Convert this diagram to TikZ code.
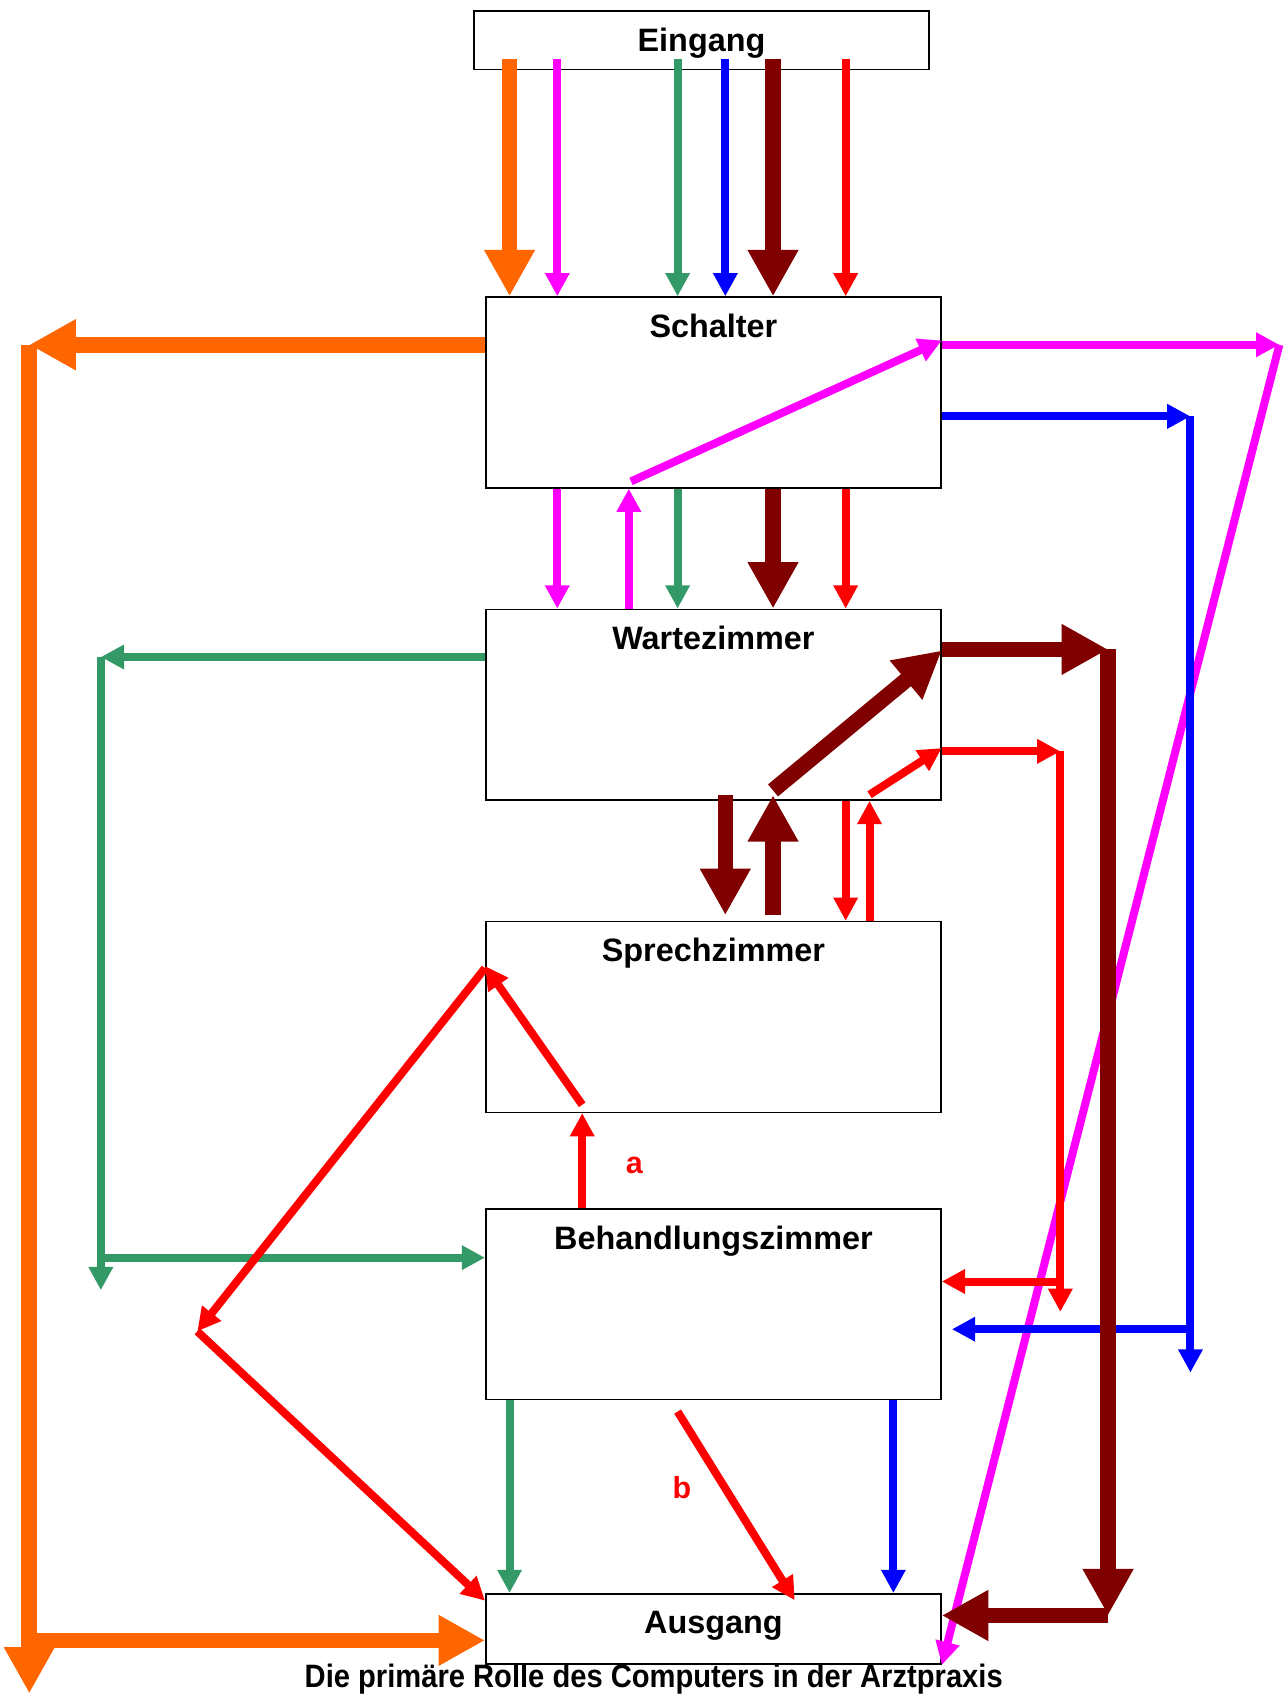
\documentclass[tikz,border=0pt]{standalone}
\usepackage{fontspec}
\setmainfont{Liberation Sans}
\newfontfamily\captionfont[FakeStretch=0.9]{Liberation Sans}
\usetikzlibrary{arrows.meta}
\definecolor{orangeflow}{HTML}{FF6600}
\definecolor{magentaflow}{HTML}{FF00FF}
\definecolor{greenflow}{HTML}{339966}
\definecolor{blueflow}{HTML}{0000FF}
\definecolor{darkredflow}{HTML}{800000}
\definecolor{redflow}{HTML}{FF0000}
\begin{document}
\begin{tikzpicture}[x=0.02cm,y=-0.02cm]
        \tikzset{room/.style={draw=black, line width=0.8pt, fill=none, minimum width=8.4cm, minimum height=3.52cm, inner sep=0pt},
          title/.style={font=\fontsize{17}{20}\selectfont\bfseries, anchor=base, yshift=-21.5pt},
          thinflow/.style={line width=4.2pt, -{Triangle[width=12.2pt,length=12.2pt]}},
          thickflow/.style={line width=8.2pt, -{Triangle[width=25pt,length=24.4pt]}}}
        \useasboundingbox (0,0) rectangle (1185,1568);
        \node[room, minimum height=1.08cm, label={[title]north:Eingang}] (eingang) at (647,37) {};
        \node[room, label={[title]north:Schalter}] (schalter) at (658,362) {};
        \node[room, label={[title]north:Wartezimmer}] (wartezimmer) at (658,650) {};
        \node[room, label={[title]north:Sprechzimmer}] (sprech) at (658,938) {};
        \node[room, label={[title]north:Behandlungszimmer}] (behandlung) at (658,1203) {};
        \node[room, minimum height=1.3cm, label={[title]north:Ausgang}] (ausgang) at (658,1502.5) {};
        \node[font=\captionfont\fontsize{17}{20}\selectfont\bfseries] (caption) at (603,1549) {Die primäre Rolle des Computers in der Arztpraxis};
        \node[font=\fontsize{16}{19}\selectfont\bfseries, text=redflow] (labela) at (585,1075) {a};
        \node[font=\fontsize{16}{19}\selectfont\bfseries, text=redflow] (labelb) at (629,1372) {b};
        \draw[thickflow, orangeflow] ([yshift=6pt]eingang.south -| 470,0) -- (schalter.north -| 470,0);
        \draw[thinflow, magentaflow] ([yshift=6pt]eingang.south -| 514,0) -- (schalter.north -| 514,0);
        \draw[thinflow, greenflow] ([yshift=6pt]eingang.south -| 625,0) -- (schalter.north -| 625,0);
        \draw[thinflow, blueflow] ([yshift=6pt]eingang.south -| 669,0) -- (schalter.north -| 669,0);
        \draw[thickflow, darkredflow] ([yshift=6pt]eingang.south -| 713,0) -- (schalter.north -| 713,0);
        \draw[thinflow, redflow] ([yshift=6pt]eingang.south -| 780,0) -- (schalter.north -| 780,0);
        \draw[thinflow, magentaflow] (schalter.south -| 514,0) -- (wartezimmer.north -| 514,0);
        \draw[thinflow, magentaflow] (wartezimmer.north -| 580,0) -- (schalter.south -| 580,0);
        \draw[thinflow, greenflow] (schalter.south -| 625,0) -- (wartezimmer.north -| 625,0);
        \draw[thickflow, darkredflow] (schalter.south -| 713,0) -- (wartezimmer.north -| 713,0);
        \draw[thinflow, redflow] (schalter.south -| 780,0) -- (wartezimmer.north -| 780,0);
        \draw[thinflow, magentaflow] (582,444) -- (schalter.east |- 0,314);
        \draw[thinflow, magentaflow] (schalter.east |- 0,318) -- (1180,318);
        \draw[thinflow, magentaflow] (1180,318) -- (ausgang.south east);
        \draw[thinflow, blueflow] (schalter.east |- 0,384) -- (1098,384);
        \draw[thinflow, blueflow] (1098,384) -- (1098,1266);
        \draw[thinflow, blueflow] (1098,1226) -- (878,1226);
        \draw[thickflow, orangeflow] (schalter.west |- 0,318) -- (27,318);
        \draw[thickflow, orangeflow] (27,318) -- (27,1562);
        \draw[thickflow, orangeflow] (27,1513) -- (ausgang.west |- 0,1513);
        \draw[thinflow, greenflow] (wartezimmer.west |- 0,606) -- (93,606);
        \draw[thinflow, greenflow] (93,606) -- (93,1190);
        \draw[thinflow, greenflow] (93,1160) -- (behandlung.west |- 0,1160);
        \draw[thickflow, darkredflow] ([yshift=3pt]wartezimmer.south -| 669,0) -- ([yshift=3pt]sprech.north -| 669,0);
        \draw[thickflow, darkredflow] ([yshift=3pt]sprech.north -| 713,0) -- ([yshift=3pt]wartezimmer.south -| 713,0);
        \draw[thickflow, darkredflow] (713,729) -- (wartezimmer.east |- 0,600);
        \draw[thickflow, darkredflow] (wartezimmer.east |- 0,599) -- (1022,599);
        \draw[thickflow, darkredflow] (1022,599) -- (1022,1490);
        \draw[thickflow, darkredflow] (1022,1490) -- (ausgang.east |- 0,1490);
        \draw[thinflow, redflow] (wartezimmer.south -| 780,0) -- (sprech.north -| 780,0);
        \draw[thinflow, redflow] (sprech.north -| 802,0) -- (wartezimmer.south -| 802,0);
        \draw[thinflow, redflow] (802,733) -- (wartezimmer.east |- 0,690);
        \draw[thinflow, redflow] (wartezimmer.east |- 0,693) -- (978,693);
        \draw[thinflow, redflow] (978,693) -- (978,1210);
        \draw[thinflow, redflow] (978,1182) -- (behandlung.east |- 0,1182);
        \draw[thinflow, redflow] (behandlung.north -| 537,0) -- (sprech.south -| 537,0);
        \draw[thinflow, redflow] (537,1019) -- (sprech.west |- 0,891);
        \draw[thinflow, redflow] (sprech.west |- 0,893) -- (182,1228);
        \draw[thinflow, redflow] (182,1228) -- ([yshift=-4pt]ausgang.north west);
        \draw[thinflow, redflow] (625,1302) -- (733,1476);
        \draw[thinflow, greenflow] (behandlung.south -| 470,0) -- (ausgang.north -| 470,0);
        \draw[thinflow, blueflow] (behandlung.south -| 824,0) -- (ausgang.north -| 824,0);
      \end{tikzpicture}
\end{document}
